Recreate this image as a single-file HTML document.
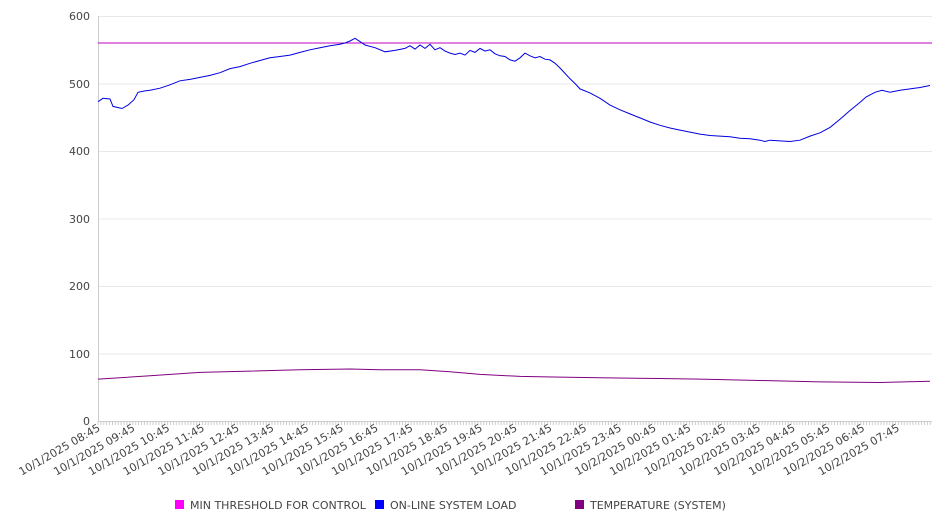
<!DOCTYPE html><html><head><style>body{margin:0;background:#fff}svg{display:block}text{font-family:"DejaVu Sans","Liberation Sans",sans-serif;fill:#444}</style></head><body>
<svg width="946" height="526" xmlns="http://www.w3.org/2000/svg" id="s">
<g stroke="#e8e8e8" stroke-width="1">
<line x1="98" y1="16.5" x2="932" y2="16.5"/><line x1="98" y1="84" x2="932" y2="84"/><line x1="98" y1="151.5" x2="932" y2="151.5"/><line x1="98" y1="219" x2="932" y2="219"/><line x1="98" y1="286.5" x2="932" y2="286.5"/><line x1="98" y1="354" x2="932" y2="354"/>
</g>
<line x1="98.5" y1="16" x2="98.5" y2="421" stroke="#ccc"/>
<line x1="98" y1="421.5" x2="932" y2="421.5" stroke="#ccc"/>
<g id="ticks" stroke="#ccc"></g>
<g font-size="11" text-anchor="end">
<text x="90" y="20">600</text><text x="90" y="88">500</text><text x="90" y="155">400</text><text x="90" y="223">300</text><text x="90" y="290">200</text><text x="90" y="358">100</text><text x="90" y="425">0</text>
</g>
<g id="xl" font-size="11" text-anchor="end"></g>
<line x1="98" y1="43" x2="932" y2="43" style="stroke:#c000c0" stroke-width="1"/>
<polyline id="load" fill="none" stroke="#0000e0" stroke-width="1"/>
<polyline id="temp" fill="none" stroke="#800080" stroke-width="1"/>
<rect x="175" y="500" width="9" height="9" fill="#ff00ff"/><text x="190" y="509" font-size="11">MIN THRESHOLD FOR CONTROL</text>
<rect x="375" y="500" width="9" height="9" fill="#0000ff"/><text x="390" y="509" font-size="11">ON-LINE SYSTEM LOAD</text>
<rect x="575" y="500" width="9" height="9" fill="#800080"/><text x="590" y="509" font-size="11">TEMPERATURE (SYSTEM)</text>
</svg>
<script>
var NS="http://www.w3.org/2000/svg";
var t=document.getElementById('ticks');
for(var x=98;x<=932;x+=2.9){var l=document.createElementNS(NS,'line');l.setAttribute('x1',x);l.setAttribute('x2',x);l.setAttribute('y1',421);l.setAttribute('y2',425);t.appendChild(l);}
var xl=document.getElementById('xl');
var labs=[];for(var i=0;i<24;i++){var h=(8+i)%24;var d=(8+i)>=24?'10/2/2025 ':'10/1/2025 ';labs.push(d+(h<10?'0':'')+h+':45');}
labs.forEach(function(s,i){var x=101+i*34.75;var e=document.createElementNS(NS,'text');e.setAttribute('transform','translate('+x+',430) rotate(-30)');e.textContent=s;xl.appendChild(e);});
function pts(a){var r=[];for(var i=0;i<a.length;i+=2)r.push(a[i]+','+(421-a[i+1]*0.675).toFixed(1));return r.join(' ');}
var L=[98,473,103,478,110,477,113,466,122,463,128,468,134,476,138,487,145,489,150,490,160,493,170,498,180,504,190,506,200,509,210,512,220,516,230,522,240,525,250,530,260,534,270,538,280,540,290,542,300,546,310,550,320,553,330,556,340,558,345,560,350,563,355,567,360,562,365,557,375,553,385,547,395,549,405,552,410,556,415,551,420,557,425,552,430,558,435,550,440,553,445,548,450,545,455,543,460,545,465,542,470,549,475,546,480,552,485,548,490,550,495,544,500,541,505,540,510,535,515,533,520,538,525,545,530,541,535,538,540,540,545,536,550,535,555,530,560,523,565,515,570,507,575,500,580,492,590,486,600,478,610,468,620,461,630,455,640,449,650,443,660,438,670,434,680,431,690,428,700,425,710,423,720,422,730,421,740,419,750,418,760,416,765,414,770,416,780,415,790,414,800,416,810,422,820,427,830,435,840,447,850,460,860,472,866,480,875,487,882,490,890,487,900,490,910,492,920,494,930,497];
var T=[98,62,150,67,200,72,250,74,300,76,350,77,380,76,420,76,450,73,480,69,520,66,560,65,600,64,660,63,700,62,760,60,820,58,880,57,930,59];
document.getElementById('load').setAttribute('points',pts(L));
document.getElementById('temp').setAttribute('points',pts(T));
</script>
</body></html>
